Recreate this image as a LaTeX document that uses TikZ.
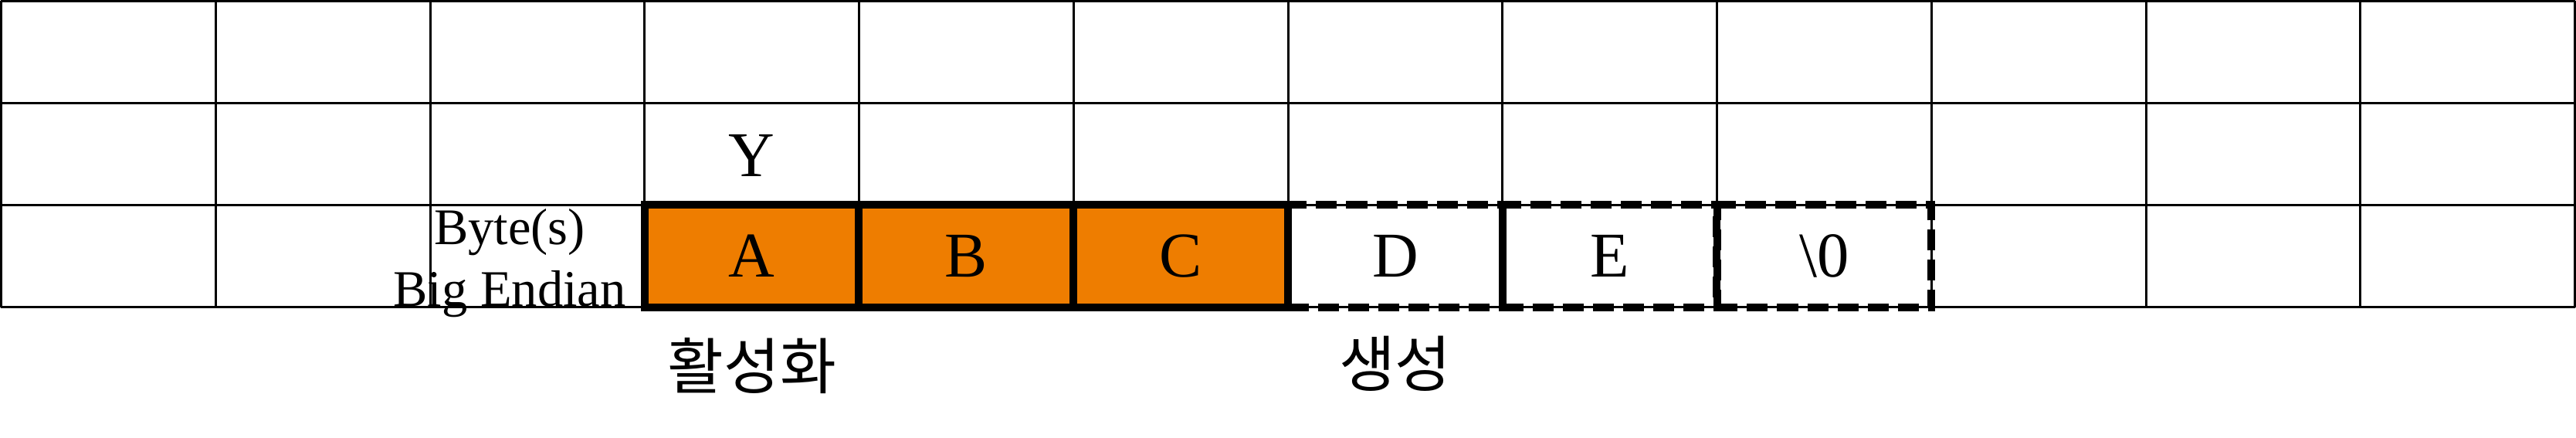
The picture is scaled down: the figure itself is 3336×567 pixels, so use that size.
\documentclass[tikz,border=0pt]{standalone}
\usepackage{fontspec}
\setmainfont{Liberation Serif}
\newfontfamily\korfont{Noto Sans CJK KR}
\definecolor{boxorange}{RGB}{238,125,0}
\tikzset{
  gridline/.style={line width=0.03cm, black},
  cellbox/.style={draw=black, line width=0.1cm, minimum width=2.7775cm, minimum height=1.32cm, inner sep=0pt, font=\fontsize{23.5}{28}\selectfont},
  filledbox/.style={cellbox, fill=boxorange},
  dashbox/.style={cellbox, dash pattern=on 0.27cm off 0.12cm},
  bigtext/.style={inner sep=0pt, font=\fontsize{23.5}{28}\selectfont},
  sidetext/.style={inner sep=0pt, align=center, font=\fontsize{18.9}{22.6}\selectfont},
  kortext/.style={inner sep=0pt, font=\korfont\fontsize{22.5}{27}\selectfont}
}
\begin{document}
\begin{tikzpicture}[x=0.01cm,y=-0.01cm]
\useasboundingbox (0,0) rectangle (3336,567);
% grid
\foreach \i in {0,...,12}{
  \draw[gridline] ({1.5+277.75*\i},1.5) -- ({1.5+277.75*\i},397.5);
}
\foreach \j in {0,...,3}{
  \draw[gridline] (1.5,{1.5+132*\j}) -- (3334.5,{1.5+132*\j});
}
% boxes
\node[filledbox] (a) at ({1.5+277.75*3.5},331.5) {A};
\node[filledbox] (b) at ({1.5+277.75*4.5},331.5) {B};
\node[filledbox] (c) at ({1.5+277.75*5.5},331.5) {C};
\node[dashbox] (d) at ({1.5+277.75*6.5},331.5) {D};
\node[dashbox] (e) at ({1.5+277.75*7.5},331.5) {E};
\node[dashbox] (f) at ({1.5+277.75*8.5},331.5) {\textbackslash 0};
% labels
\node[bigtext] (y) at ({1.5+277.75*3.5},201) {Y};
\node[sidetext, anchor=base] (side) at (660,396) {Byte(s)\\Big Endian};
\node[kortext] (k1) at ({1.5+277.75*3.5},474) {활성화};
\node[kortext] (k2) at ({1.5+277.75*6.5},471) {생성};
\end{tikzpicture}
\end{document}
